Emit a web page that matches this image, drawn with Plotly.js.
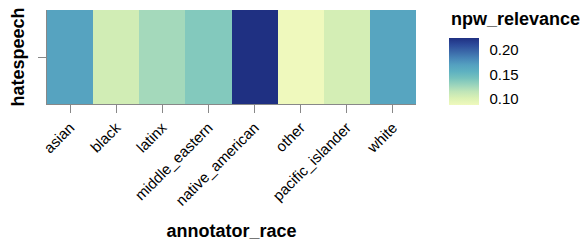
<!DOCTYPE html>
<html><head><meta charset="utf-8">
<script src="https://cdn.plot.ly/plotly-3.0.1.min.js"></script>
<style>html,body{margin:0;padding:0;background:#fff}</style>
</head><body><div id="chart" style="width:584px;height:241px"></div>
<script>
const categories = ['asian','black','latinx','middle_eastern','native_american','other','pacific_islander','white'];
const rowLabels = ['hatespeech'];
const npwRelevance = [0.164, 0.115, 0.130, 0.140, 0.210, 0.100, 0.114, 0.163];
const schemeColors = ['#eff9bd','#dbf1b4','#c0e5b8','#9ad4bc','#76c2bd','#5eb1c1','#54a0c0','#4785b7','#3a67a8','#2c4a9a','#1f3082'];
const legendTickVals = [0.1107, 0.150, 0.190];
const legendTickText = ['0.10','0.15','0.20'];

const colorscale = schemeColors.map((c,i)=>[i/(schemeColors.length-1), c]);
const zmin = Math.min(...npwRelevance), zmax = Math.max(...npwRelevance);
const FONT = 'Liberation Sans, Arial, Helvetica, sans-serif';

const trace = {
  type:'heatmap',
  x: categories,
  y: [0],
  z: [npwRelevance],
  zmin: zmin, zmax: zmax,
  colorscale: colorscale,
  hoverinfo:'x+z',
  colorbar: {
    x: (449-47)/369, xanchor:'left', xref:'paper',
    y: (104-105)/94, yanchor:'bottom', yref:'paper',
    thickness:30, thicknessmode:'pixels',
    len:67, lenmode:'pixels',
    xpad:0, ypad:0, outlinewidth:0,
    tickmode:'array', tickvals: legendTickVals, ticktext: legendTickText,
    ticks:'outside', ticklen:8, tickcolor:'rgba(0,0,0,0)',
    tickfont:{family:FONT, size:15, color:'#000'}
  }
};

const layout = {
  width:584, height:241,
  margin:{l:47, r:168, t:10, b:137, pad:0},
  paper_bgcolor:'#fff', plot_bgcolor:'#fff',
  font:{family:FONT, color:'#000'},
  xaxis:{
    type:'category', showgrid:false, zeroline:false,
    showline:true, linecolor:'#888', linewidth:1,
    ticks:'outside', ticklen:8, tickcolor:'#888', tickwidth:1,
    tickangle:-45, tickfont:{family:FONT, size:15, color:'#000'},
    title:{text:'annotator_race', font:{family:FONT, size:18, weight:'bold', color:'#000'}, standoff:16},
    automargin:false
  },
  yaxis:{
    range:[-0.5,0.5], tickvals:[0], showticklabels:false,
    showgrid:false, zeroline:false,
    showline:true, linecolor:'#888', linewidth:1,
    ticks:'outside', ticklen:8, tickcolor:'#888', tickwidth:1,
    title:{text:rowLabels[0], font:{family:FONT, size:18, weight:'bold', color:'#000'}, standoff:8},
    automargin:false
  },
  annotations:[{
    text:'npw_relevance', xref:'paper', yref:'paper',
    x:(449-47)/369, y:(104-19)/94, xanchor:'left', yanchor:'middle',
    showarrow:false, font:{family:FONT, size:18, weight:'bold', color:'#000'}
  }]
};
Plotly.newPlot('chart',[trace],layout,{displayModeBar:false, staticPlot:true});
</script></body></html>
